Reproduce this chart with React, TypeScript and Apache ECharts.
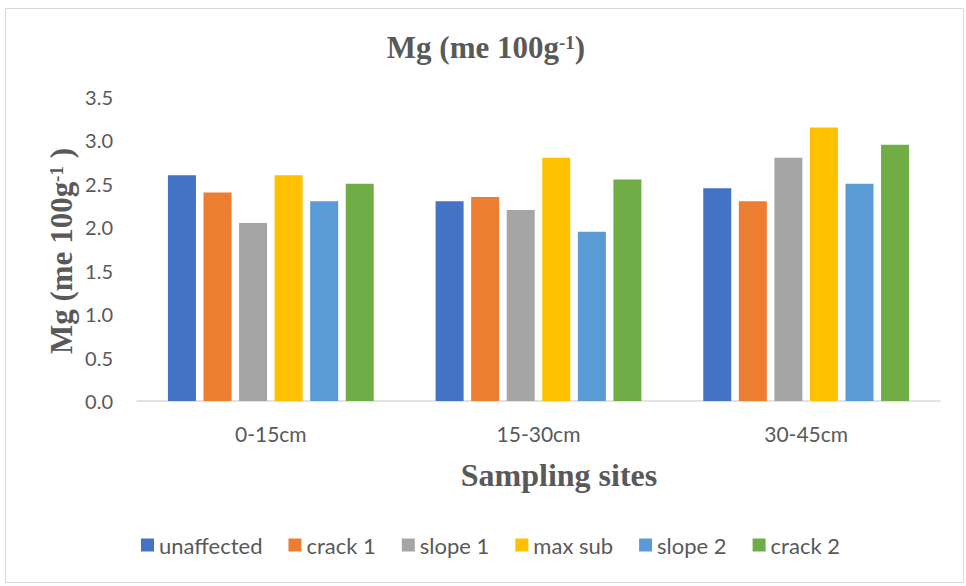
import React, { useEffect, useRef } from "react";
import * as echarts from "echarts";

const categories = ["0-15cm", "15-30cm", "30-45cm"];
const seriesNames = ["unaffected", "crack 1", "slope 1", "max sub", "slope 2", "crack 2"];
const unaffected = [2.6, 2.3, 2.45];
const crack1 = [2.4, 2.35, 2.3];
const slope1 = [2.05, 2.2, 2.8];
const maxSub = [2.6, 2.8, 3.15];
const slope2 = [2.3, 1.95, 2.5];
const crack2 = [2.5, 2.55, 2.95];
const seriesValues = [unaffected, crack1, slope1, maxSub, slope2, crack2];
const colors = ["#4472C4", "#ED7D31", "#A5A5A5", "#FFC000", "#5B9BD5", "#70AD47"];

const TEXT = "#595959";
const SANS = "Lato, 'Open Sans', sans-serif";
const SERIF = "'Liberation Serif', 'DejaVu Serif', serif";

export default function App() {
  const ref = useRef<HTMLDivElement>(null);

  useEffect(() => {
    if (!ref.current) return;
    const chart = echarts.init(ref.current, undefined, { renderer: "svg" });

    const heading = (size: number) => ({
      a: { fontFamily: SERIF, fontWeight: "bold", fontSize: size, fill: TEXT, lineHeight: size + 4 },
      s: {
        fontFamily: SERIF,
        fontWeight: "bold",
        fontSize: Math.round(size * 0.6),
        fill: TEXT,
        lineHeight: size + 4,
        verticalAlign: "top",
        padding: [3, 0, 0, 0],
      },
    });

    chart.setOption({
      animation: false,
      backgroundColor: "#ffffff",
      color: colors,
      grid: { left: 137, right: 26, top: 97, bottom: 185, containLabel: false },
      xAxis: {
        type: "category",
        data: categories,
        axisTick: { show: false },
        axisLine: { lineStyle: { color: "#d9d9d9", width: 1.5 } },
        axisLabel: { color: TEXT, fontFamily: SANS, fontSize: 21, margin: 22 },
      },
      yAxis: {
        type: "value",
        min: 0,
        max: 3.5,
        interval: 0.5,
        splitLine: { show: false },
        axisLine: { show: false },
        axisTick: { show: false },
        axisLabel: {
          color: TEXT,
          fontFamily: SANS,
          fontSize: 20,
          margin: 24,
          formatter: (v: number) => v.toFixed(1),
        },
      },
      legend: {
        data: seriesNames,
        left: 136,
        top: 529,
        itemWidth: 13,
        itemHeight: 13,
        itemGap: 26,
        icon: "rect",
        textStyle: { color: TEXT, fontFamily: SANS, fontSize: 22, padding: [0, 0, 0, 0] },
      },
      series: seriesNames.map((name, i) => ({
        name,
        type: "bar",
        data: seriesValues[i],
        barWidth: 28,
        barGap: "27%",
        itemStyle: { color: colors[i] },
      })),
      graphic: [
        {
          type: "rect",
          shape: { x: 5.5, y: 8.5, width: 958, height: 574 },
          style: { fill: "none", stroke: "#d9d9d9", lineWidth: 1 },
          silent: true,
        },
        {
          type: "text",
          x: 486,
          y: 47,
          style: {
            text: "{a|Mg (me 100g}{s|-1}{a|)}",
            rich: heading(31),
            align: "center",
            verticalAlign: "middle",
          },
        },
        {
          type: "text",
          x: 61,
          y: 251,
          rotation: Math.PI / 2,
          style: {
            text: "{a|Mg (me 100g}{s|-1}{a| )}",
            rich: heading(31),
            align: "center",
            verticalAlign: "middle",
          },
        },
        {
          type: "text",
          x: 559,
          y: 475,
          style: {
            text: "Sampling sites",
            fontFamily: SERIF,
            fontWeight: "bold",
            fontSize: 32,
            fill: TEXT,
            align: "center",
            verticalAlign: "middle",
          },
        },
      ],
    });

    return () => chart.dispose();
  }, []);

  return (
    <div
      ref={ref}
      style={{ position: "fixed", left: 0, top: 0, width: 966, height: 586, background: "#fff" }}
    />
  );
}
